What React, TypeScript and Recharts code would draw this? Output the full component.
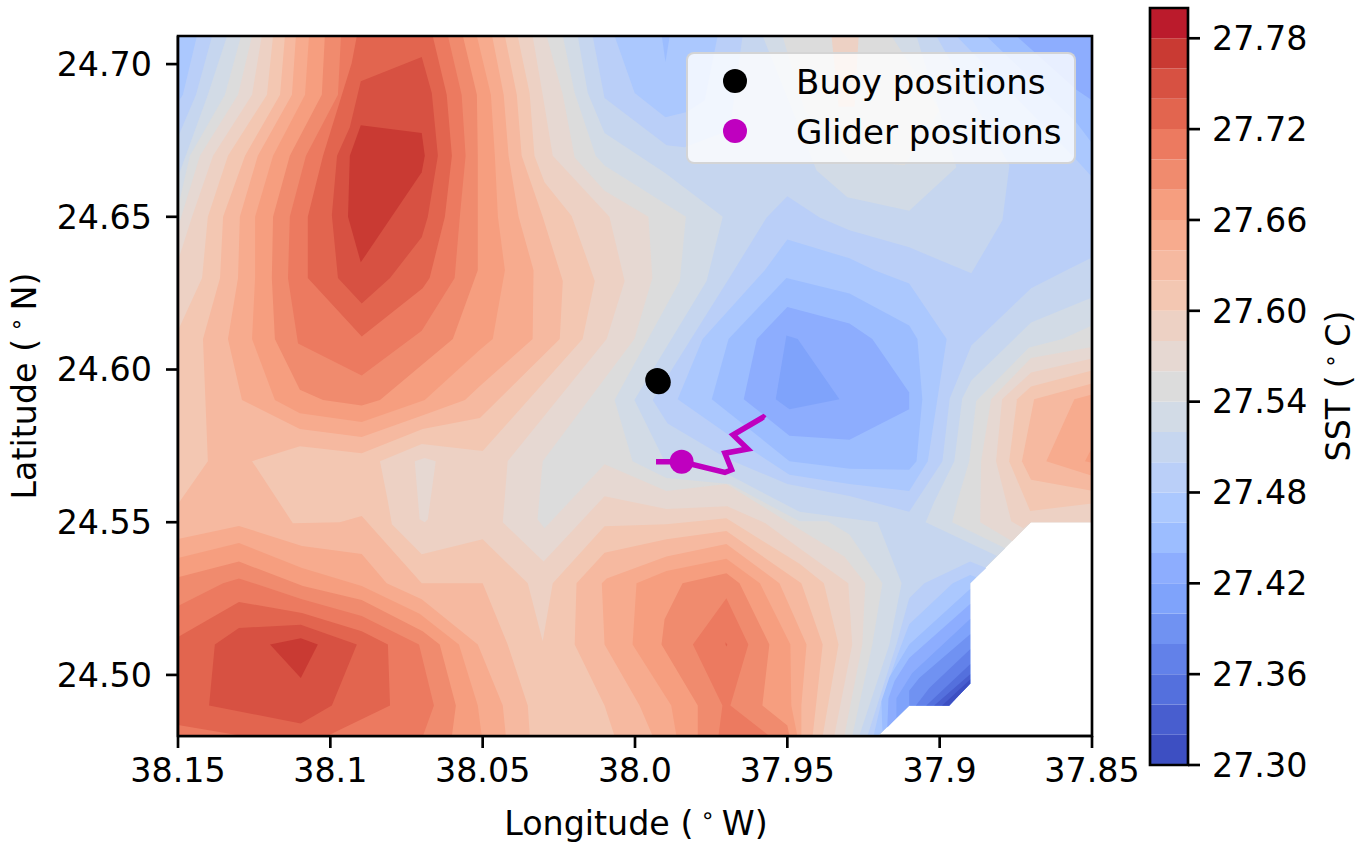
import {
    ComposedChart,
    BarChart,
    Bar,
    Scatter,
    XAxis,
    YAxis,
    Legend,
} from 'recharts'

type Pt = [number, number]

const T = 24.7092
const lonTicks = [38.15, 38.1, 38.05, 38.0, 37.95, 37.9, 37.85]
const lonLabels = ['38.15', '38.1', '38.05', '38.0', '37.95', '37.9', '37.85']
const latTicks = [24.5, 24.55, 24.6, 24.65, 24.7]
const sstTicks = [27.3, 27.36, 27.42, 27.48, 27.54, 27.6, 27.66, 27.72, 27.78]
const sstLevels = [
    27.3, 27.32, 27.34, 27.36, 27.38, 27.4, 27.42, 27.44, 27.46, 27.48, 27.5, 27.52, 27.54,
    27.56, 27.58, 27.6, 27.62, 27.64, 27.66, 27.68, 27.7, 27.72, 27.74, 27.76, 27.78, 27.8,
]
const bandColors = [
    '#3d4fc2', '#485ecf', '#5470dd', '#6281e9', '#7092f2', '#7fa3fb', '#8dadfe', '#9cbdff',
    '#abc8fe', '#bacff8', '#c6d6ef', '#d2dbe6', '#dcdcdc', '#e6d8d2', '#edd1c4', '#f3c7b2',
    '#f6b9a0', '#f7ab8e', '#f69e7f', '#f08b6e', '#ec7a60', '#e2654f', '#d75142', '#c93a33',
    '#bb1b2c',
]

// buoy and glider tracks
const buoyTrack: Pt[] = [[37.9922, 24.5958], [37.9925, 24.5962], [37.9927, 24.5966]]
const gliderTrack: Pt[] = [
    [37.9931, 24.5698], [37.9847, 24.5698], [37.9705, 24.5663], [37.9683, 24.5672],
    [37.9705, 24.5726], [37.963, 24.574], [37.9678, 24.5786], [37.9579, 24.5844], [37.9574, 24.584],
]
const gliderNow: Pt[] = [[37.9847, 24.5698]]

// axes boxes, drawn last so the fills do not cover them
const mapFrame: Pt[] = [[38.15, T], [37.85, T], [37.85, 24.48], [38.15, 24.48], [38.15, T]]
const barFrame: Pt[] = [[0, 27.8], [1, 27.8], [1, 27.3], [0, 27.3], [0, 27.8]]

// contour outlines, [lon, lat]
const fanEdge: Pt[] = [[37.91, 24.49], [37.8969, 24.49], [37.89, 24.4972]]
const whiteEdge: Pt[] = [[37.9203, 24.48], ...fanEdge, [37.89, 24.53]]

const baseField: Pt[] = [[38.15, T], [37.85, T], [37.85, 24.55], [37.87, 24.55], [37.89, 24.53], [37.89, 24.4972], [37.8969, 24.49], [37.91, 24.49], [37.9203, 24.48], [38.15, 24.48]]

const w13Main: Pt[] = [[38.1257, T], [38.1303, 24.69], [38.1428, 24.67], [38.15, 24.6465], [38.15, 24.48], [37.9313, 24.48], [37.9254, 24.51], [37.9244, 24.53], [37.9313, 24.5388], [37.946, 24.5477], [37.97, 24.5625], [37.9897, 24.5602], [38.01, 24.569], [38.0297, 24.548], [38.032, 24.551], [38.0303, 24.57], [38.0002, 24.61], [37.9943, 24.63], [37.9956, 24.65], [38.01, 24.6585], [38.0198, 24.6694], [38.0237, 24.69], [38.029, T]]
const w13East: Pt[] = [[37.85, 24.6074], [37.87, 24.6038], [37.8831, 24.5903], [37.8864, 24.57], [37.8867, 24.55], [37.8762, 24.5438], [37.87, 24.55], [37.85, 24.55]]
const w14Main: Pt[] = [[38.1225, T], [38.1257, 24.69], [38.1385, 24.67], [38.1454, 24.65], [38.15, 24.6356], [38.15, 24.48], [37.9346, 24.48], [37.9287, 24.51], [37.93, 24.53], [37.946, 24.5415], [37.9572, 24.5497], [37.9697, 24.5552], [37.9897, 24.5543], [38.01, 24.5585], [38.03, 24.5371], [38.0434, 24.55], [38.0418, 24.57], [38.0093, 24.61], [38.0034, 24.629], [38.0084, 24.65], [38.027, 24.67], [38.0303, 24.69], [38.0336, T]]
const w14East: Pt[] = [[37.85, 24.6036], [37.87, 24.599], [37.8795, 24.5903], [37.8815, 24.57], [37.8765, 24.5503], [37.8726, 24.548], [37.87, 24.55], [37.85, 24.55]]
const w14Top: Pt[] = [[37.9355, T], [37.9266, T], [37.9279, 24.686], [37.9332, 24.686]]
const hole13: Pt[] = [[38.0723, 24.57], [38.069, 24.571], [38.0654, 24.57], [38.068, 24.551], [38.069, 24.55], [38.0707, 24.551]]
const w15Main: Pt[] = [[38.1188, T], [38.1208, 24.69], [38.1336, 24.67], [38.1402, 24.65], [38.1421, 24.63], [38.15, 24.6128], [38.15, 24.48], [37.9384, 24.48], [37.9332, 24.51], [37.938, 24.53], [37.946, 24.5364], [37.97, 24.5513], [37.9897, 24.5493], [38.01, 24.5487], [38.027, 24.53], [38.0303, 24.511], [38.0352, 24.53], [38.05, 24.5444], [38.07, 24.5395], [38.0798, 24.5493], [38.0811, 24.5568], [38.0837, 24.57], [38.07, 24.5756], [38.05, 24.5733], [38.0172, 24.61], [38.0132, 24.629], [38.0208, 24.6503], [38.0297, 24.6613], [38.033, 24.67], [38.0346, 24.6905], [38.0385, T]]
const w15East: Pt[] = [[37.85, 24.5997], [37.87, 24.5944], [37.8746, 24.5903], [37.8772, 24.57], [37.8703, 24.5537], [37.85, 24.5561]]
const w16Left: Pt[] = [[38.1149, T], [38.1165, 24.69], [38.128, 24.67], [38.1352, 24.65], [38.1362, 24.63], [38.1418, 24.61], [38.1402, 24.57], [38.15, 24.556], [38.15, 24.48], [38.0345, 24.48], [38.0352, 24.49], [38.0418, 24.51], [38.05, 24.53], [38.07, 24.53], [38.0897, 24.552], [38.0969, 24.55], [38.1123, 24.5497], [38.1257, 24.57], [38.11, 24.5749], [38.0897, 24.5726], [38.0697, 24.5805], [38.0509, 24.5841], [38.0247, 24.61], [38.0237, 24.629], [38.0303, 24.65], [38.0372, 24.67], [38.0388, 24.69], [38.0427, T]]
const w16Right: Pt[] = [[37.9417, 24.48], [37.9384, 24.51], [37.9454, 24.53], [37.97, 24.5471], [37.9897, 24.5444], [38.01, 24.54], [38.0192, 24.53], [38.0198, 24.51], [38.01, 24.49], [38.0067, 24.48]]
const w16East: Pt[] = [[37.85, 24.5954], [37.869, 24.5903], [37.873, 24.57], [37.87, 24.5639], [37.85, 24.5603]]
const w17Ridge: Pt[] = [[38.1113, T], [38.1126, 24.69], [38.1238, 24.67], [38.1297, 24.65], [38.1303, 24.63], [38.1336, 24.61], [38.129, 24.59], [38.11, 24.5805], [38.0897, 24.5779], [38.0696, 24.585], [38.0558, 24.59], [38.0509, 24.5946], [38.0336, 24.61], [38.0333, 24.6325], [38.0382, 24.65], [38.0415, 24.67], [38.0431, 24.69], [38.0469, T]]
const w17Hill: Pt[] = [[38.15, 24.5445], [38.13, 24.5488], [38.1093, 24.5422], [38.0897, 24.5396], [38.0815, 24.53], [38.07, 24.5248], [38.0516, 24.51], [38.0434, 24.49], [38.0424, 24.48], [38.15, 24.48]]
const w17Right: Pt[] = [[37.9454, 24.48], [37.9454, 24.49], [37.9437, 24.51], [37.9526, 24.53], [37.97, 24.5429], [37.9897, 24.5388], [38.0093, 24.5316], [38.0109, 24.53], [38.01, 24.51], [37.9985, 24.49], [37.9942, 24.48]]
const w17East: Pt[] = [[37.85, 24.5918], [37.8558, 24.5903], [37.865, 24.57], [37.85, 24.5652]]
const w18Ridge: Pt[] = [[38.107, T], [38.1083, 24.69], [38.1188, 24.67], [38.1247, 24.65], [38.1247, 24.63], [38.1257, 24.61], [38.1182, 24.59], [38.11, 24.5857], [38.0897, 24.5828], [38.069, 24.59], [38.0509, 24.6065], [38.0467, 24.61], [38.0427, 24.6325], [38.045, 24.65], [38.046, 24.67], [38.0473, 24.69], [38.0519, T]]
const w18Hill: Pt[] = [[38.15, 24.5383], [38.13, 24.5432], [38.1093, 24.535], [38.0897, 24.5291], [38.0707, 24.52], [38.0578, 24.51], [38.0516, 24.49], [38.0503, 24.48], [38.15, 24.48]]
const w18Right: Pt[] = [[37.9467, 24.48], [37.9487, 24.49], [37.949, 24.51], [37.959, 24.53], [37.97, 24.538], [37.9897, 24.534], [37.9995, 24.53], [38.0008, 24.51], [37.9881, 24.49], [37.9864, 24.48]]
const w18East: Pt[] = [[37.85, 24.5744], [37.8523, 24.57], [37.85, 24.5695]]
const w19Ridge: Pt[] = [[38.1018, T], [38.1028, 24.69], [38.1133, 24.67], [38.1188, 24.65], [38.1192, 24.63], [38.1182, 24.61], [38.11, 24.5934], [38.1024, 24.59], [38.0897, 24.5882], [38.0837, 24.59], [38.0598, 24.61], [38.0516, 24.6325], [38.0516, 24.67], [38.0519, 24.69], [38.0565, T]]
const w19Hill: Pt[] = [[38.15, 24.532], [38.13, 24.5371], [38.109, 24.5291], [38.0897, 24.5245], [38.0697, 24.5143], [38.0641, 24.51], [38.0588, 24.49], [38.0601, 24.48], [38.15, 24.48]]
const w19Right: Pt[] = [[37.97, 24.5333], [37.9657, 24.53], [37.9559, 24.51], [37.9582, 24.49], [37.95, 24.4834], [37.9493, 24.48], [37.9794, 24.48], [37.9794, 24.49], [37.9913, 24.51], [37.9903, 24.5182], [37.9844, 24.53]]
const w20Ridge: Pt[] = [[38.0965, T], [38.0975, 24.69], [38.108, 24.67], [38.1133, 24.65], [38.1139, 24.63], [38.1106, 24.6085], [38.0897, 24.598], [38.07, 24.6127], [38.0592, 24.63], [38.0575, 24.65], [38.0556, 24.67], [38.0569, 24.69], [38.0614, T]]
const w20Hill: Pt[] = [[38.15, 24.5226], [38.1352, 24.53], [38.13, 24.5316], [38.1093, 24.5248], [38.0897, 24.5193], [38.0709, 24.51], [38.066, 24.49], [38.0696, 24.48], [38.15, 24.48]]
const w20Right: Pt[] = [[37.97, 24.5251], [37.9628, 24.51], [37.9687, 24.49], [37.9559, 24.48], [37.9726, 24.48], [37.9713, 24.49], [37.981, 24.51]]
const w21Ridge: Pt[] = [[38.0913, T], [38.093, 24.7003], [38.1024, 24.67], [38.1074, 24.65], [38.1074, 24.63], [38.0897, 24.6108], [38.0697, 24.6266], [38.0674, 24.63], [38.0624, 24.65], [38.0601, 24.67], [38.0618, 24.69], [38.0664, T]]
const w21Hill: Pt[] = [[38.15, 24.5124], [38.13, 24.5239], [38.1093, 24.5203], [38.0897, 24.5143], [38.0811, 24.51], [38.0804, 24.49], [38.1011, 24.48], [38.1287, 24.48], [38.15, 24.4836]]
const w21Speck: Pt[] = [[37.9703, 24.5107], [37.9697, 24.51], [37.97, 24.5093], [37.9703, 24.51]]
const w22Ridge: Pt[] = [[38.07, 24.7023], [38.0667, 24.6905], [38.0647, 24.67], [38.068, 24.65], [38.07, 24.6433], [38.0804, 24.63], [38.0897, 24.6216], [38.0975, 24.63], [38.0995, 24.6505], [38.0978, 24.67], [38.0936, 24.6793], [38.09, 24.6944]]
const w22Hill: Pt[] = [[38.1379, 24.51], [38.13, 24.5154], [38.1097, 24.5164], [38.0913, 24.51], [38.0995, 24.49], [38.1097, 24.4841], [38.1398, 24.49]]
const w23Ridge: Pt[] = [[38.09, 24.68], [38.07, 24.6774], [38.069, 24.67], [38.07, 24.6646], [38.09, 24.6351], [38.0942, 24.65], [38.0936, 24.67]]
const w23Hill: Pt[] = [[38.1198, 24.51], [38.1097, 24.512], [38.1041, 24.51], [38.1097, 24.499]]

const c11Main: Pt[] = [[38.0237, T], [38.0198, 24.6905], [38.0129, 24.67], [38.01, 24.6668], [37.9833, 24.65], [37.9853, 24.629], [38.0067, 24.59], [38.0008, 24.57], [37.9897, 24.5645], [37.9689, 24.5625], [37.946, 24.5503], [37.9368, 24.5503], [37.9296, 24.546], [37.9188, 24.53], [37.9221, 24.51], [37.9287, 24.48], ...whiteEdge, [37.8785, 24.5415], [37.8959, 24.55], [37.8942, 24.5569], [37.8903, 24.57], [37.888, 24.5897], [37.8706, 24.6072], [37.8597, 24.61], [37.85, 24.6144], [37.85, T], [37.9158, T], [37.9, 24.6849], [37.9115, 24.6669], [37.9296, 24.6685], [37.9443, 24.6849], [37.9516, T]]
const c11West: Pt[] = [[38.15, T], [38.1293, T], [38.1346, 24.69], [38.1461, 24.67], [38.15, 24.6531]]
const c10Main: Pt[] = [[38.0188, T], [38.0155, 24.6905], [38.01, 24.6774], [37.99, 24.6643], [37.9712, 24.65], [37.9765, 24.629], [38.0002, 24.59], [37.9903, 24.57], [37.9697, 24.5658], [37.946, 24.5534], [37.9204, 24.55], [37.9125, 24.53], [37.9165, 24.51], [37.9264, 24.48], ...whiteEdge, [37.8813, 24.539], [37.9046, 24.55], [37.9017, 24.5569], [37.8952, 24.57], [37.8926, 24.5905], [37.8896, 24.5964], [37.87, 24.6154], [37.85, 24.6236], [37.85, T], [37.9076, T], [37.8945, 24.6662], [37.91, 24.652], [37.9303, 24.6564], [37.9404, 24.6652], [37.9581, T]]
const c10West: Pt[] = [[38.15, T], [38.1339, T], [38.1402, 24.69], [38.15, 24.663]]
const c9West: Pt[] = [[38.15, T], [38.1388, T], [38.1441, 24.69], [38.15, 24.6761]]
const c9Top: Pt[] = [[38.0139, T], [38.01, 24.6889], [37.9896, 24.6734], [37.9837, 24.6728], [37.9689, 24.6784], [37.9647, T]]
const c9Main: Pt[] = [[37.85, T], [37.9011, T], [37.8771, 24.6669], [37.8794, 24.6489], [37.8896, 24.6315], [37.91, 24.64], [37.9296, 24.6456], [37.9394, 24.6498], [37.95, 24.6567], [37.9568, 24.6498], [37.9689, 24.6302], [37.9942, 24.59], [37.9893, 24.5823], [37.9697, 24.5708], [37.95, 24.5625], [37.9296, 24.5586], [37.91, 24.5534], [37.8991, 24.57], [37.8967, 24.5905], [37.8896, 24.6079], [37.87, 24.6266], [37.8584, 24.6325], [37.85, 24.6367]]
const c9Fan: Pt[] = [[37.8847, 24.535], [37.89, 24.5371], [37.905, 24.53], [37.91, 24.5251], [37.9142, 24.51], [37.9237, 24.48], ...whiteEdge]
const c8West: Pt[] = [[38.15, T], [38.1438, T], [38.1484, 24.69], [38.15, 24.6875]]
const c8Top: Pt[] = [[38.0067, T], [38.0001, 24.6905], [37.99, 24.6826], [37.983, 24.6843], [37.9771, 24.6882], [37.9729, T]]
const c8Low: Pt[] = [[37.9574, 24.6325], [37.95, 24.6426], [37.9296, 24.6364], [37.9214, 24.6325], [37.91, 24.6282], [37.8977, 24.61], [37.9039, 24.57], [37.91, 24.5602], [37.9296, 24.5625], [37.9493, 24.5655], [37.9697, 24.5789], [37.986, 24.5903], [37.9778, 24.61]]
const c8Corner: Pt[] = [[37.8945, T], [37.855, 24.6685], [37.85, 24.663], [37.85, T]]
const c8Fan: Pt[] = [[37.888, 24.532], [37.89, 24.5327], [37.8957, 24.53], [37.91, 24.5166], [37.9142, 24.5055], [37.9191, 24.4914], [37.9217, 24.48], ...whiteEdge]
const c7Tip: Pt[] = [[37.9912, T], [37.99, 24.7007], [37.9886, T]]
const c7Low: Pt[] = [[37.9503, 24.63], [37.9296, 24.6249], [37.91, 24.6144], [37.9073, 24.61], [37.9057, 24.5903], [37.9076, 24.57], [37.91, 24.5672], [37.9296, 24.5675], [37.9493, 24.57], [37.9748, 24.5903], [37.9693, 24.61]]
const c7Corner: Pt[] = [[37.8847, T], [37.855, 24.6807], [37.85, 24.6741], [37.85, T]]
const c7Fan: Pt[] = [[37.89, 24.5281], [37.91, 24.51], [37.9165, 24.4992], [37.9191, 24.4914], [37.9188, 24.4816], ...fanEdge]
const c6Low: Pt[] = [[37.95, 24.6205], [37.9296, 24.6151], [37.9221, 24.61], [37.91, 24.5925], [37.91, 24.587], [37.9296, 24.577], [37.9493, 24.5783], [37.9643, 24.5903], [37.96, 24.61]]
const c6Corner: Pt[] = [[37.8748, T], [37.855, 24.6915], [37.85, 24.6882], [37.85, T]]
const c6Fan: Pt[] = [[37.89, 24.5232], [37.91, 24.5055], [37.9148, 24.498], [37.9168, 24.4924], [37.9172, 24.4828], ...fanEdge]
const c5Low: Pt[] = [[37.9503, 24.6111], [37.9466, 24.61], [37.9329, 24.5903], [37.9493, 24.587], [37.9538, 24.5903]]
const c5Fan: Pt[] = [[37.89, 24.5183], [37.909, 24.5006], [37.9142, 24.4924], [37.9142, 24.486], ...fanEdge]
const c4Fan: Pt[] = [[37.89, 24.5133], [37.9067, 24.499], [37.91, 24.4948], ...fanEdge]
const c3Fan: Pt[] = [[37.89, 24.5084], [37.9034, 24.4957], [37.9078, 24.49], ...fanEdge.slice(1)]
const c2Fan: Pt[] = [[37.89, 24.5035], [37.9044, 24.49], ...fanEdge.slice(1)]
const c1Fan: Pt[] = [[37.89, 24.5002], [37.9018, 24.49], ...fanEdge.slice(1)]
const c0Fan: Pt[] = [[37.89, 24.4985], [37.8992, 24.49], ...fanEdge.slice(1)]

// painted in this order, warm bands upward and cool bands downward from the grey one
const layers: [number, Pt[]][] = [
    [12, baseField],
    [13, w13Main], [13, w13East],
    [14, w14Main], [14, w14East], [14, w14Top], [13, hole13],
    [15, w15Main], [15, w15East],
    [16, w16Left], [16, w16Right], [16, w16East],
    [17, w17Ridge], [17, w17Hill], [17, w17Right], [17, w17East],
    [18, w18Ridge], [18, w18Hill], [18, w18Right], [18, w18East],
    [19, w19Ridge], [19, w19Hill], [19, w19Right],
    [20, w20Ridge], [20, w20Hill], [20, w20Right],
    [21, w21Ridge], [21, w21Hill], [21, w21Speck],
    [22, w22Ridge], [22, w22Hill],
    [23, w23Ridge], [23, w23Hill],
    [11, c11Main], [11, c11West],
    [10, c10Main], [10, c10West],
    [9, c9Main], [9, c9West], [9, c9Top], [9, c9Fan],
    [8, c8West], [8, c8Top], [8, c8Low], [8, c8Corner], [8, c8Fan],
    [7, c7Tip], [7, c7Low], [7, c7Corner], [7, c7Fan],
    [6, c6Low], [6, c6Corner], [6, c6Fan],
    [5, c5Low], [5, c5Fan],
    [4, c4Fan], [3, c3Fan], [2, c2Fan], [1, c1Fan], [0, c0Fan],
]

const legendItems = [
    { name: 'Buoy positions', color: '#000000' },
    { name: 'Glider positions', color: '#bf00bf' },
]

const toRows = (pts: Pt[]) => pts.map(([lon, lat]) => ({ lon, lat }))

const barRow: Record<string, any> = { name: 'sst' }
bandColors.forEach((_, i) => {
    barRow['b' + i] = [sstLevels[i], sstLevels[i + 1]]
})

const FONT = '"DejaVu Sans"'
const FS = 33.3
const LW = 2.67
const tickStyle = { fontFamily: FONT, fontSize: FS, fill: '#000' }
const lineStyle = { stroke: '#000', strokeWidth: LW }

const NoPoint = () => <g />
const Dot = (color: string) => (p: any) => <circle cx={p.cx} cy={p.cy} r={12} fill={color} />

function axisTitle(before: string, after: string, x: number, y: number, rotate: number) {
    return () => (
        <text
            x={x}
            y={y}
            transform={rotate ? `rotate(${rotate} ${x} ${y})` : undefined}
            textAnchor="middle"
            fontFamily={FONT}
            fontSize={FS}
            fill="#000"
        >
            <tspan>{before}</tspan>
            <tspan dx={7} dy={-12} fontSize={23}>∘</tspan>
            <tspan dx={7} dy={12}>{after}</tspan>
        </text>
    )
}

function MapLegend() {
    return (
        <div
            style={{
                boxSizing: 'border-box',
                width: 390,
                height: 112,
                background: 'rgba(255,255,255,0.8)',
                border: `${LW}px solid rgba(204,204,204,0.8)`,
                borderRadius: 8,
                fontFamily: FONT,
                fontSize: 34.1,
                color: '#000',
                position: 'relative',
            }}
        >
            {legendItems.map((item, i) => (
                <div key={item.name} style={{ position: 'absolute', left: 0, top: 7 + i * 50, height: 42, lineHeight: '42px', whiteSpace: 'nowrap' }}>
                    <span
                        style={{
                            position: 'absolute',
                            left: 35,
                            top: 8,
                            width: 24,
                            height: 24,
                            borderRadius: '50%',
                            background: item.color,
                        }}
                    />
                    <span style={{ position: 'absolute', left: 108 }}>{item.name}</span>
                </div>
            ))}
        </div>
    )
}

export default function App() {
    return (
        <div style={{ position: 'absolute', left: 0, top: 0, width: 1370, height: 843, background: '#fff' }}>
            <ComposedChart
                width={1370}
                height={843}
                margin={{ top: 36, right: 278, bottom: 0, left: 0 }}
                style={{ position: 'absolute', left: 0, top: 0 }}
            >
                <XAxis
                    dataKey="lon"
                    type="number"
                    reversed
                    domain={[37.85, 38.15]}
                    ticks={lonTicks}
                    interval={0}
                    tickFormatter={(v: number) => lonLabels[lonTicks.indexOf(v)]}
                    height={107}
                    tickSize={12}
                    tickMargin={10}
                    tick={tickStyle}
                    axisLine={lineStyle}
                    tickLine={lineStyle}
                    label={axisTitle('Longitude (', 'W)', 636, 835, 0)}
                />
                <YAxis
                    dataKey="lat"
                    type="number"
                    domain={[24.48, T]}
                    ticks={latTicks}
                    interval={0}
                    tickFormatter={(v: number) => v.toFixed(2)}
                    width={178}
                    tickSize={12}
                    tickMargin={14}
                    tick={tickStyle}
                    axisLine={lineStyle}
                    tickLine={lineStyle}
                    label={axisTitle('Latitude (', 'N)', 36, 386, -90)}
                />
                {layers.map(([band, pts], i) => (
                    <Scatter
                        key={i}
                        data={toRows(pts)}
                        isAnimationActive={false}
                        shape={NoPoint}
                        line={{ fill: bandColors[band], stroke: 'none' }}
                        legendType="none"
                    />
                ))}
                <Scatter
                    data={toRows(gliderTrack)}
                    isAnimationActive={false}
                    shape={NoPoint}
                    line={{ stroke: '#bf00bf', strokeWidth: 5.5 }}
                    legendType="none"
                />
                <Scatter data={toRows(buoyTrack)} name="Buoy positions" isAnimationActive={false} shape={Dot('#000000')} />
                <Scatter data={toRows(gliderNow)} name="Glider positions" isAnimationActive={false} shape={Dot('#bf00bf')} />
                <Scatter
                    data={toRows(mapFrame)}
                    isAnimationActive={false}
                    shape={NoPoint}
                    line={{ stroke: '#000', strokeWidth: LW, strokeLinecap: 'square' }}
                    legendType="none"
                />
                <Legend
                    layout="vertical"
                    align="center"
                    verticalAlign="middle"
                    content={<MapLegend />}
                    wrapperStyle={{ position: 'absolute', left: 686, top: 52, width: 390, height: 112 }}
                />
            </ComposedChart>

            <BarChart
                width={225}
                height={843}
                data={[barRow]}
                margin={{ top: 8, right: 0, bottom: 78, left: 5 }}
                barCategoryGap={0}
                barGap={-38}
                style={{ position: 'absolute', left: 1145, top: 0 }}
            >
                <XAxis dataKey="name" hide />
                <YAxis
                    orientation="right"
                    type="number"
                    domain={[27.3, 27.8]}
                    ticks={sstTicks}
                    interval={0}
                    tickFormatter={(v: number) => v.toFixed(2)}
                    width={182}
                    tickSize={12}
                    tickMargin={12}
                    tick={tickStyle}
                    axisLine={false}
                    tickLine={lineStyle}
                    label={axisTitle('SST (', 'C)', 205, 386, -90)}
                />
                {bandColors.map((color, i) => (
                    <Bar key={i} dataKey={'b' + i} fill={color} isAnimationActive={false} />
                ))}
            </BarChart>

            <ComposedChart
                width={225}
                height={843}
                margin={{ top: 8, right: 182, bottom: 78, left: 5 }}
                style={{ position: 'absolute', left: 1145, top: 0 }}
            >
                <XAxis dataKey="lon" type="number" domain={[0, 1]} hide />
                <YAxis dataKey="lat" type="number" domain={[27.3, 27.8]} hide />
                <Scatter
                    data={toRows(barFrame)}
                    isAnimationActive={false}
                    shape={NoPoint}
                    line={{ stroke: '#000', strokeWidth: LW, strokeLinecap: 'square' }}
                    legendType="none"
                />
            </ComposedChart>
        </div>
    )
}
